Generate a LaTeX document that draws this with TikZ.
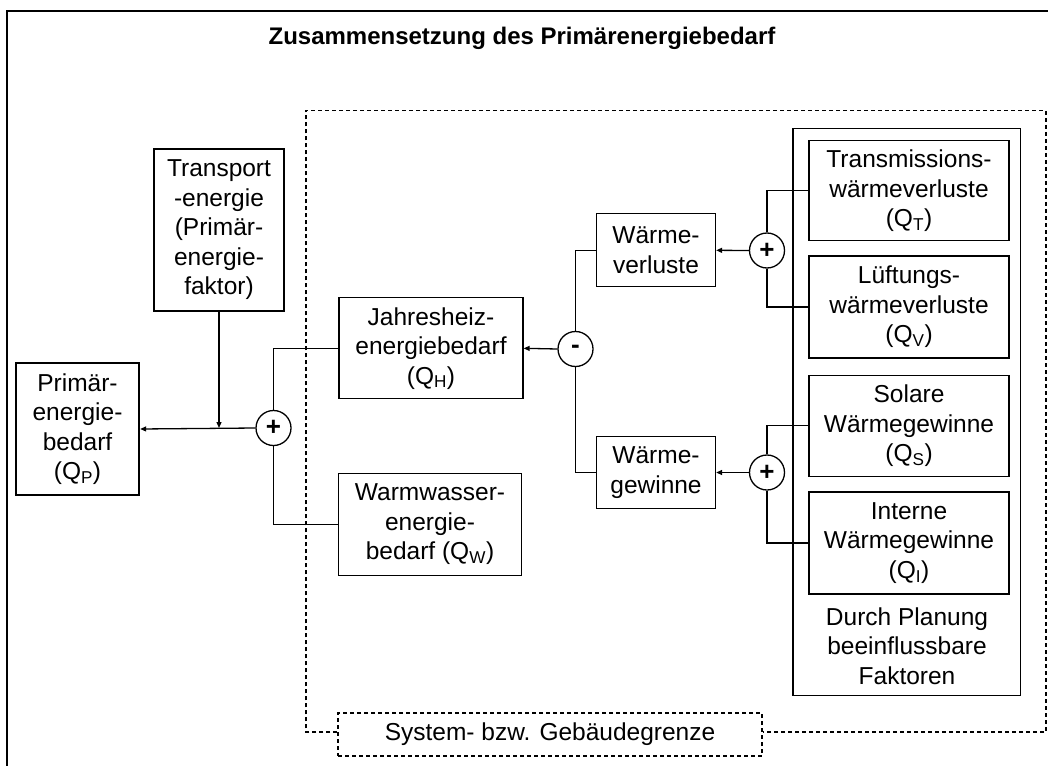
\documentclass[tikz,border=0pt]{standalone}
\usepackage{fontspec}
\setmainfont{Liberation Sans}
\usetikzlibrary{arrows.meta}

\begin{document}
\begin{tikzpicture}[x=1pt,y=-1pt,
  txt/.style={font=\fontsize{24.5}{29.5}\selectfont, align=center},
  box/.style={txt, draw, line width=1.3pt, inner sep=0pt},
  opbox/.style={draw, circle, line width=1.3pt, minimum size=35pt, inner sep=0pt,
                font=\fontsize{26}{26}\selectfont\bfseries},
  link/.style={line width=1.3pt},
  arr/.style={link, -{Triangle[length=6pt,width=5pt]}},
  border/.style={line width=1.2pt, dash pattern=on 4pt off 3pt}]

\useasboundingbox (0,0) rectangle (1048,765);
\fill[white] (0,0) rectangle (1048,765);

% outer frame (continues past the page edge on the right and at the bottom)
\draw[line width=1.6pt] (7,770) -- (7,11) -- (1055,11);

% title
\node[font=\fontsize{24}{29}\selectfont\bfseries, anchor=base] (title) at (522,45)
  {Zusammensetzung des Primärenergiebedarf};

% system boundary with its label
\node[txt, draw, border, minimum width=424pt, minimum height=43pt, inner sep=0pt]
  (grenze) at (550,734.5) {System- bzw. Gebäudegrenze};
\draw[border] (grenze.west |- 0,732) -- (306,732) -- (306,110.7) -- (1046,110.7)
  -- (1046,732) -- (grenze.east |- 0,732);

% group of factors that planning can influence
\draw[line width=1.3pt] (793,128.3) rectangle (1020.7,695.7);
\node[txt] (planung) at (907,646) {Durch Planung\\beeinflussbare\\Faktoren};

% blocks
\node[box, line width=2.4pt, minimum width=123pt, minimum height=132pt] (prim) at (77.5,429)
  {Primär-\\energie-\\bedarf\\(Q\textsubscript{P})};
\node[box, minimum width=130pt, minimum height=162pt] (transport) at (219,230)
  {Transport\\-energie\\(Primär-\\energie-\\faktor)};
\node[box, minimum width=184pt, minimum height=101pt] (jahres) at (431,348.3)
  {Jahresheiz-\\energiebedarf\\(Q\textsubscript{H})};
\node[box, minimum width=183pt, minimum height=102pt] (warm) at (430,524.2)
  {Warmwasser-\\energie-\\bedarf (Q\textsubscript{W})};
\node[box, minimum width=119pt, minimum height=73pt] (wverl) at (656,250.3)
  {Wärme-\\verluste};
\node[box, minimum width=119pt, minimum height=72pt] (wgew) at (656,472.5)
  {Wärme-\\gewinne};
\node[box, minimum width=200pt, minimum height=100pt] (trans) at (909,190.7)
  {Transmissions-\\wärmeverluste\\(Q\textsubscript{T})};
\node[box, minimum width=200pt, minimum height=102pt] (lueft) at (909,307)
  {Lüftungs-\\wärmeverluste\\(Q\textsubscript{V})};
\node[box, minimum width=200pt, minimum height=101pt] (solar) at (909,425.8)
  {Solare\\Wärmegewinne\\(Q\textsubscript{S})};
\node[box, minimum width=200pt, minimum height=102pt] (intern) at (909,543)
  {Interne\\Wärmegewinne\\(Q\textsubscript{I})};

% summing points
\node[opbox] (sumP) at (273.5,428) {+};
\node[opbox] (diffH) at (575.5,349) {-};
\node[opbox] (sumV) at (767,250.5) {+};
\node[opbox] (sumG) at (767,472.5) {+};

% connectors
\draw[arr] (sumP.west) -- (prim.east);
\draw[arr] (transport.south) -- (transport.south |- sumP.west);
\draw[link] (sumP.north) |- (jahres.west);
\draw[link] (sumP.south) |- (warm.west);
\draw[arr] (diffH.west) -- (jahres.east);
\draw[link] (diffH.north) |- (wverl.west);
\draw[link] (diffH.south) |- (wgew.west);
\draw[arr] (sumV.west) -- (wverl.east);
\draw[link] (sumV.north) |- (trans.west);
\draw[link] (sumV.south) |- (lueft.west);
\draw[arr] (sumG.west) -- (wgew.east);
\draw[link] (sumG.north) |- (solar.west);
\draw[link] (sumG.south) |- (intern.west);
\end{tikzpicture}
\end{document}
